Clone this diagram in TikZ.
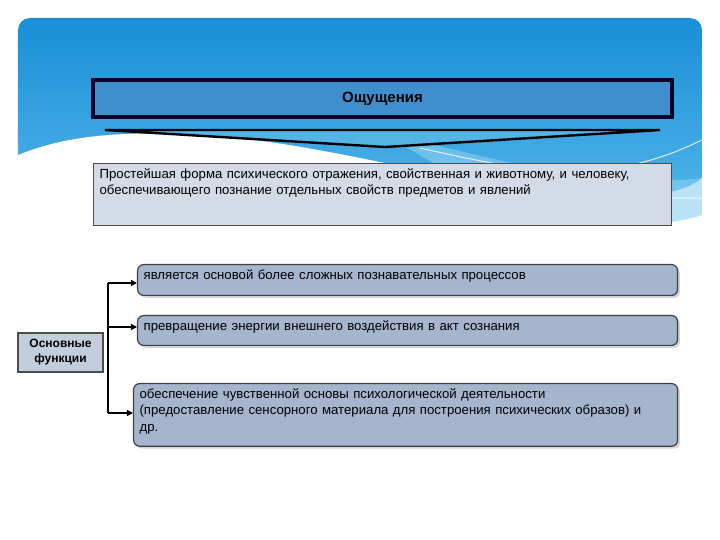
\documentclass[tikz,border=0pt]{standalone}
\usepackage{fontspec}
\setmainfont{Liberation Sans}
\usetikzlibrary{arrows.meta,shadows}
\definecolor{skyA}{HTML}{1a8fd8}
\definecolor{skyB}{HTML}{5cbcec}
\definecolor{titlef}{HTML}{3f8fcf}
\definecolor{descf}{HTML}{d3dbe6}
\definecolor{funcf}{HTML}{a5b5cd}
\definecolor{leftf}{HTML}{c3cedd}
\tikzset{
  titlebox/.style={draw=black!85!blue,line width=1.6pt,fill=titlef,minimum width=289.5pt,minimum height=18.5pt,font=\bfseries\fontsize{7.5}{9}\selectfont},
  descbox/.style={draw=black!70,line width=0.6pt,fill=descf,text width=283pt,align=left,inner xsep=3pt,inner ysep=2.5pt,font=\fontsize{6.6}{8}\selectfont},
  funcbox/.style={draw=black!75,line width=0.6pt,rounded corners=3pt,fill=funcf,text width=264pt,align=left,inner xsep=3pt,inner ysep=2.5pt,font=\fontsize{6.6}{8.2}\selectfont,drop shadow={opacity=0.35,shadow xshift=1.2pt,shadow yshift=-1.2pt}},
  leftbox/.style={draw=black!70,line width=0.6pt,fill=leftf,minimum width=42.5pt,minimum height=19.5pt,align=center,font=\bfseries\fontsize{6}{7.5}\selectfont,inner sep=1pt},
  conn/.style={line width=0.6pt,-{Triangle[length=3pt,width=3pt]}}
}
\begin{document}
\begin{tikzpicture}[x=0.5pt,y=-0.5pt]
\useasboundingbox (0,0) rectangle (720,540);
\fill[white] (0,0) rectangle (720,540);
% sky header
\shade[top color=skyA,bottom color=skyB,rounded corners=6pt]
  (18,160) -- (18,18) -- (702,18) -- (702,250) -- (702,250);
\fill[white] (18,155) .. controls (60,138) and (110,130) .. (200,135)
  .. controls (330,142) and (470,190) .. (600,198)
  .. controls (650,200) and (690,190) .. (702,178) -- (702,540) -- (18,540) -- cycle;
\fill[skyB!70!white,opacity=0.6] (380,132) .. controls (500,160) and (600,190) .. (702,178)
  -- (702,215) .. controls (640,235) and (560,220) .. (480,190) -- cycle;
\draw[white,line width=0.5pt,opacity=0.8] (420,148) .. controls (520,170) and (600,190) .. (702,140);
\draw[white,line width=0.5pt,opacity=0.8] (520,170) .. controls (600,190) and (650,200) .. (702,198);
% title
\node[titlebox] (t) at (382.5,98.5) {Ощущения};
\coordinate (wl) at (105,130);
\coordinate (wr) at (660,130);
\coordinate (wb) at (385,147);
\draw[fill=skyB!80!titlef,draw=black,line width=1.2pt] (wl) -- (wr) -- (wb) -- cycle;
% description
\node[descbox,anchor=north west] (d) at (93,163) {Простейшая форма психического отражения, свойственная и животному, и человеку, обеспечивающего познание отдельных свойств предметов и явлений\rule[-13pt]{0pt}{0pt}};
% functions
\node[leftbox] (l) at (60.5,352.5) {Основные\\функции};
\node[funcbox,anchor=north west] (f1) at (137,264) {является основой более сложных познавательных процессов\rule[-5.5pt]{0pt}{0pt}};
\node[funcbox,anchor=north west] (f2) at (137,315) {превращение энергии внешнего воздействия в акт сознания\rule[-5pt]{0pt}{0pt}};
\node[funcbox,anchor=north west,text width=266pt] (f3) at (133,383) {обеспечение чувственной основы психологической деятельности\\(предоставление сенсорного материала для построения психических образов) и\\др.\rule[-5pt]{0pt}{0pt}};
\coordinate (j1) at (108,283);
\coordinate (j2) at (108,327);
\coordinate (j3) at (108,413);
\draw[line width=0.6pt] (j1) -- (j3);
\draw[conn] (j1) -- (j1 -| f1.west);
\draw[conn] (j2) -- (j2 -| f2.west);
\draw[conn] (j3) -- (j3 -| f3.west);
\end{tikzpicture}
\end{document}
